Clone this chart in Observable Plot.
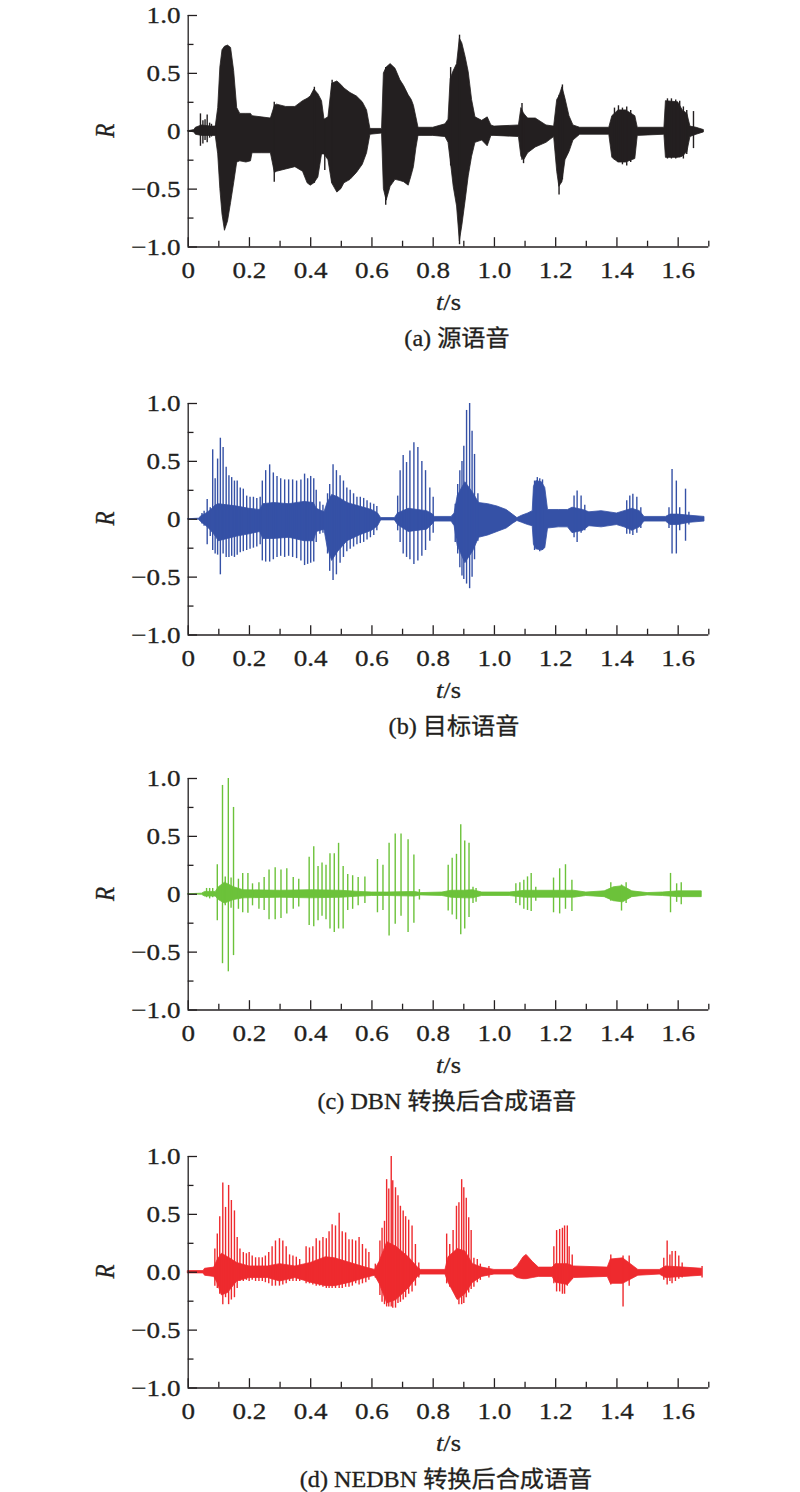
<!DOCTYPE html>
<html>
<head>
<meta charset="utf-8">
<script src="https://cdn.jsdelivr.net/npm/d3@7"></script>
<script src="https://cdn.jsdelivr.net/npm/@observablehq/plot@0.6"></script>
<style>
  body { margin: 0; background: #fff; }
  #root { position: relative; width: 800px; height: 1492px; overflow: hidden; }
  #root > svg { position: absolute; left: 0; }
</style>
</head>
<body>
<div id="root"></div>
<script>
// ---------- tick values ----------
const xMajorTicks = [0, 0.2, 0.4, 0.6, 0.8, 1.0, 1.2, 1.4, 1.6];
const xMinorTicks = [0.1, 0.3, 0.5, 0.7, 0.9, 1.1, 1.3, 1.5, 1.7];
const yMajorTicks = [-1, -0.5, 0, 0.5, 1];
const yMinorTicks = [-0.75, -0.25, 0.25, 0.75];

// ---------- captions ----------
const captions = ["(a) 源语音", "(b) 目标语音", "(c) DBN 转换后合成语音", "(d) NEDBN 转换后合成语音"];
const zeroLabels = ["0", "0", "0", "0.0"];
const seriesColors = ["#231f20", "#3551a6", "#6cc23a", "#ee2a2e"];

// ---------- (a) source speech: envelope [t, upper, lower] ----------
const sourceEnvelope = [
  [0,0,0],[0.02,0.01,-0.01],[0.025,0.03,-0.03],[0.045,0.05,-0.04],[0.075,0.04,-0.04],[0.09,0.04,-0.04],
  [0.098,0.20,-0.20],[0.105,0.55,-0.50],
  [0.112,0.70,-0.72],[0.12,0.73,-0.86],[0.13,0.74,-0.78],[0.14,0.72,-0.62],[0.15,0.52,-0.45],
  [0.16,0.20,-0.27],[0.17,0.15,-0.26],[0.19,0.15,-0.27],[0.205,0.15,-0.26],[0.21,0.13,-0.19],
  [0.24,0.12,-0.19],[0.27,0.11,-0.19],[0.283,0.22,-0.36],[0.29,0.23,-0.35],[0.32,0.21,-0.33],
  [0.35,0.21,-0.31],[0.375,0.26,-0.35],[0.39,0.28,-0.45],[0.40,0.30,-0.47],[0.412,0.36,-0.45],
  [0.425,0.32,-0.40],[0.437,0.26,-0.20],[0.445,0.10,-0.20],[0.458,0.12,-0.25],
  [0.47,0.41,-0.45],[0.487,0.43,-0.53],[0.50,0.40,-0.50],[0.51,0.37,-0.45],[0.53,0.33,-0.42],
  [0.551,0.30,-0.36],[0.57,0.25,-0.29],[0.584,0.18,-0.19],[0.595,0.02,-0.03],
  [0.633,0.02,-0.02],[0.639,0.50,-0.50],[0.648,0.55,-0.60],[0.661,0.58,-0.48],[0.677,0.54,-0.42],
  [0.693,0.44,-0.43],[0.705,0.39,-0.44],[0.72,0.31,-0.47],[0.73,0.27,-0.38],[0.737,0.22,-0.31],
  [0.745,0.12,-0.15],[0.752,0.03,-0.04],[0.765,0.03,-0.04],[0.80,0.03,-0.04],[0.84,0.06,-0.05],
  [0.85,0.10,-0.10],[0.857,0.45,-0.25],[0.867,0.52,-0.48],[0.878,0.58,-0.65],[0.887,0.80,-0.95],
  [0.895,0.76,-0.82],[0.906,0.64,-0.60],[0.916,0.51,-0.39],[0.927,0.27,-0.22],[0.938,0.12,-0.10],
  [0.96,0.09,-0.08],[0.978,0.12,-0.13],[0.99,0.05,-0.04],[1.0,0.04,-0.04],[1.08,0.05,-0.05],
  [1.088,0.20,-0.22],[1.097,0.15,-0.25],[1.11,0.11,-0.19],[1.135,0.11,-0.14],[1.17,0.05,-0.10],
  [1.195,0.04,-0.05],[1.205,0.27,-0.35],[1.212,0.30,-0.48],[1.222,0.38,-0.44],[1.232,0.28,-0.25],
  [1.245,0.13,-0.18],[1.258,0.05,-0.08],[1.28,0.03,-0.03],[1.375,0.03,-0.03],[1.385,0.13,-0.23],
  [1.405,0.18,-0.27],[1.43,0.18,-0.27],[1.46,0.13,-0.24],[1.468,0.03,-0.04],[1.555,0.03,-0.03],
  [1.56,0.26,-0.23],[1.60,0.25,-0.23],[1.615,0.18,-0.22],[1.63,0.15,-0.18],[1.64,0.04,-0.05],
  [1.66,0.03,-0.03],[1.684,0.01,-0.01]
];
const sourceSpikes = [
  [0.040,0.15,-0.13],[0.048,0.09,-0.11],[0.055,0.10,-0.08],[0.062,0.14,-0.10],[0.070,0.07,-0.06],
  [0.076,0.06,-0.05],[0.090,0.05,-0.04],[0.281,0.25,-0.44],[0.412,0.38,-0.45],[0.446,0.10,-0.34],
  [0.470,0.44,-0.45],[0.645,0.55,-0.64],[0.857,0.55,-0.30],[0.886,0.83,-0.98],[1.090,0.24,-0.25],
  [1.095,0.15,-0.28],[1.211,0.31,-0.55],[1.222,0.40,-0.42],[1.392,0.20,-0.25],[1.405,0.22,-0.27],
  [1.418,0.20,-0.29],[1.432,0.21,-0.30],[1.445,0.18,-0.27],[1.565,0.28,-0.24],[1.578,0.28,-0.24],
  [1.592,0.27,-0.24],[1.605,0.26,-0.23],[1.617,0.21,-0.24],[1.628,0.18,-0.20],[1.650,0.17,-0.15]
];

// ---------- (b) target speech ----------
const targetEnvelope = [
  [0,0,0],[0.035,0.005,-0.005],[0.045,0.03,-0.03],[0.06,0.05,-0.06],[0.075,0.08,-0.10],[0.09,0.12,-0.15],
  [0.10,0.13,-0.19],[0.13,0.12,-0.17],[0.16,0.11,-0.15],[0.20,0.09,-0.13],[0.235,0.08,-0.11],
  [0.245,0.13,-0.17],[0.28,0.14,-0.17],[0.33,0.13,-0.16],[0.38,0.15,-0.19],[0.41,0.14,-0.19],
  [0.42,0.09,-0.11],[0.445,0.06,-0.09],[0.455,0.14,-0.24],[0.47,0.21,-0.36],[0.49,0.19,-0.28],
  [0.52,0.14,-0.19],[0.56,0.11,-0.14],[0.60,0.08,-0.10],[0.62,0.05,-0.06],[0.63,0.01,-0.01],
  [0.675,0.01,-0.01],[0.685,0.05,-0.05],[0.72,0.09,-0.11],[0.78,0.07,-0.09],[0.80,0.04,-0.04],
  [0.805,0.02,-0.02],[0.86,0.02,-0.02],[0.87,0.05,-0.06],[0.88,0.20,-0.23],[0.905,0.32,-0.38],
  [0.93,0.23,-0.28],[0.95,0.14,-0.16],[0.98,0.13,-0.14],[1.01,0.11,-0.11],[1.04,0.08,-0.08],
  [1.06,0.04,-0.04],[1.075,0.01,-0.015],[1.09,0.03,-0.03],[1.11,0.05,-0.05],[1.125,0.07,-0.06],
  [1.129,0.28,-0.22],[1.137,0.33,-0.26],[1.155,0.32,-0.27],[1.166,0.27,-0.25],[1.175,0.08,-0.08],
  [1.21,0.08,-0.07],[1.24,0.08,-0.07],[1.255,0.10,-0.12],[1.29,0.08,-0.10],[1.31,0.06,-0.06],
  [1.35,0.07,-0.07],[1.40,0.05,-0.05],[1.425,0.07,-0.07],[1.45,0.09,-0.10],[1.475,0.07,-0.07],
  [1.49,0.02,-0.02],[1.56,0.02,-0.02],[1.575,0.04,-0.05],[1.60,0.04,-0.05],[1.64,0.03,-0.03],
  [1.686,0.02,-0.02]
];
const targetSpikes = [
  [0.045,0.05,-0.04],[0.052,0.07,-0.06],[0.062,0.17,-0.22],[0.072,0.10,-0.15],[0.080,0.60,-0.27],
  [0.088,0.35,-0.30],[0.096,0.52,-0.31],[0.105,0.70,-0.48],[0.114,0.62,-0.30],[0.124,0.45,-0.33],
  [0.133,0.375,-0.33],[0.142,0.36,-0.32],[0.151,0.33,-0.33],[0.160,0.33,-0.31],[0.170,0.27,-0.29],
  [0.180,0.26,-0.28],[0.191,0.20,-0.27],[0.202,0.19,-0.26],[0.213,0.19,-0.25],[0.224,0.18,-0.24],
  [0.235,0.19,-0.22],[0.242,0.33,-0.36],[0.253,0.42,-0.37],[0.266,0.47,-0.37],[0.278,0.40,-0.35],
  [0.290,0.37,-0.33],[0.302,0.35,-0.32],[0.315,0.34,-0.33],[0.328,0.34,-0.32],[0.341,0.34,-0.33],
  [0.354,0.33,-0.34],[0.368,0.34,-0.36],[0.380,0.39,-0.40],[0.390,0.35,-0.39],[0.400,0.37,-0.38],
  [0.410,0.35,-0.37],[0.418,0.25,-0.20],[0.430,0.15,-0.13],[0.440,0.12,-0.12],[0.455,0.22,-0.30],
  [0.462,0.30,-0.45],[0.473,0.47,-0.53],[0.484,0.42,-0.48],[0.496,0.375,-0.38],[0.507,0.33,-0.33],
  [0.518,0.27,-0.28],[0.529,0.25,-0.26],[0.540,0.22,-0.24],[0.551,0.19,-0.22],[0.562,0.19,-0.21],
  [0.573,0.18,-0.20],[0.584,0.16,-0.18],[0.595,0.14,-0.16],[0.606,0.13,-0.14],[0.616,0.11,-0.10],
  [0.684,0.20,-0.10],[0.692,0.42,-0.20],[0.702,0.55,-0.30],[0.713,0.49,-0.33],[0.724,0.59,-0.35],
  [0.737,0.66,-0.39],[0.750,0.62,-0.36],[0.763,0.50,-0.32],[0.775,0.42,-0.27],[0.789,0.27,-0.19],
  [0.800,0.19,-0.12],[0.872,0.13,-0.20],[0.880,0.30,-0.30],[0.887,0.42,-0.42],[0.894,0.50,-0.49],
  [0.900,0.63,-0.52],[0.909,0.94,-0.56],[0.919,1.00,-0.60],[0.927,0.76,-0.50],[0.935,0.56,-0.35],
  [0.946,0.22,-0.19],[1.131,0.33,-0.27],[1.140,0.36,-0.26],[1.148,0.35,-0.28],[1.157,0.34,-0.27],
  [1.260,0.20,-0.16],[1.270,0.245,-0.20],[1.283,0.20,-0.12],[1.295,0.12,-0.10],
  [1.432,0.16,-0.13],[1.442,0.20,-0.13],[1.452,0.215,-0.14],[1.465,0.19,-0.12],[1.478,0.10,-0.08],
  [1.570,0.10,-0.08],[1.580,0.43,-0.30],[1.594,0.33,-0.30],[1.605,0.10,-0.10],[1.624,0.26,-0.19],
  [1.635,0.06,-0.05]
];

// ---------- (c) DBN converted speech ----------
const dbnEnvelope = [
  [0,0,0],[0.045,0.005,-0.005],[0.055,0.02,-0.02],[0.09,0.02,-0.02],[0.10,0.06,-0.05],[0.12,0.10,-0.08],
  [0.15,0.06,-0.05],[0.18,0.035,-0.035],[0.30,0.03,-0.03],[0.40,0.035,-0.035],[0.50,0.03,-0.03],
  [0.56,0.02,-0.02],[0.60,0.015,-0.015],[0.65,0.015,-0.015],[0.74,0.02,-0.02],[0.76,0.01,-0.01],
  [0.83,0.015,-0.015],[0.86,0.03,-0.03],[0.90,0.03,-0.035],[0.93,0.035,-0.035],[0.96,0.015,-0.015],
  [1.05,0.015,-0.015],[1.10,0.03,-0.03],[1.20,0.03,-0.03],[1.26,0.03,-0.03],[1.30,0.015,-0.015],
  [1.36,0.025,-0.025],[1.39,0.06,-0.06],[1.42,0.07,-0.07],[1.45,0.025,-0.025],[1.50,0.01,-0.01],
  [1.55,0.015,-0.015],[1.60,0.025,-0.025],[1.677,0.025,-0.025]
];
const dbnSpikes = [
  [0.060,0.05,-0.03],[0.070,0.05,-0.04],[0.080,0.05,-0.03],[0.095,0.255,-0.23],[0.112,0.94,-0.60],
  [0.121,0.15,-0.10],[0.131,1.00,-0.67],[0.140,0.14,-0.12],[0.148,0.75,-0.53],[0.164,0.13,-0.13],
  [0.178,0.18,-0.16],[0.195,0.18,-0.165],[0.210,0.09,-0.10],[0.231,0.10,-0.13],[0.248,0.145,-0.14],
  [0.264,0.21,-0.22],[0.284,0.23,-0.22],[0.303,0.21,-0.21],[0.322,0.22,-0.17],[0.343,0.145,-0.13],
  [0.361,0.13,-0.11],[0.395,0.32,-0.27],[0.410,0.41,-0.28],[0.424,0.24,-0.23],[0.437,0.27,-0.19],
  [0.450,0.25,-0.22],[0.463,0.35,-0.30],[0.477,0.35,-0.33],[0.491,0.44,-0.30],[0.506,0.24,-0.30],
  [0.521,0.17,-0.14],[0.537,0.16,-0.13],[0.555,0.145,-0.10],[0.577,0.15,-0.08],[0.618,0.30,-0.16],
  [0.636,0.25,-0.14],[0.656,0.44,-0.36],[0.676,0.52,-0.26],[0.695,0.52,-0.19],[0.718,0.47,-0.33],
  [0.737,0.34,-0.25],[0.755,0.04,-0.05],[0.849,0.25,-0.145],[0.862,0.31,-0.18],[0.876,0.345,-0.22],
  [0.890,0.60,-0.35],[0.903,0.46,-0.30],[0.917,0.44,-0.20],[0.930,0.06,-0.08],[0.940,0.05,-0.07],
  [1.070,0.09,-0.08],[1.083,0.10,-0.10],[1.096,0.12,-0.13],[1.108,0.15,-0.14],[1.120,0.18,-0.15],
  [1.135,0.06,-0.06],[1.193,0.14,-0.16],[1.213,0.22,-0.17],[1.232,0.255,-0.13],[1.253,0.12,-0.15],
  [1.380,0.10,-0.06],[1.415,0.08,-0.145],[1.430,0.10,-0.08],[1.575,0.18,-0.16],[1.595,0.09,-0.07],
  [1.610,0.10,-0.09]
];

// ---------- (d) NEDBN converted speech ----------
const nedbnEnvelope = [
  [0,0.01,-0.01],[0.05,0.01,-0.01],[0.055,0.03,-0.03],[0.085,0.04,-0.04],[0.095,0.10,-0.09],
  [0.11,0.16,-0.20],[0.13,0.13,-0.18],[0.16,0.08,-0.08],[0.20,0.05,-0.05],[0.26,0.05,-0.05],
  [0.30,0.07,-0.08],[0.35,0.05,-0.05],[0.40,0.08,-0.09],[0.45,0.13,-0.12],[0.48,0.12,-0.12],
  [0.53,0.08,-0.09],[0.58,0.04,-0.05],[0.61,0.02,-0.03],[0.625,0.09,-0.10],[0.65,0.26,-0.27],
  [0.68,0.22,-0.24],[0.72,0.13,-0.14],[0.75,0.04,-0.04],[0.76,0.02,-0.02],[0.84,0.02,-0.02],
  [0.85,0.13,-0.09],[0.88,0.20,-0.24],[0.905,0.18,-0.19],[0.93,0.07,-0.09],[0.96,0.04,-0.04],
  [1.00,0.02,-0.02],[1.06,0.02,-0.02],[1.075,0.05,-0.05],[1.095,0.13,-0.06],[1.105,0.15,-0.06],
  [1.125,0.09,-0.05],[1.145,0.04,-0.04],[1.19,0.04,-0.04],[1.20,0.07,-0.09],[1.24,0.07,-0.11],
  [1.26,0.05,-0.05],[1.37,0.04,-0.04],[1.38,0.11,-0.10],[1.42,0.12,-0.10],[1.47,0.02,-0.03],
  [1.54,0.02,-0.02],[1.56,0.05,-0.05],[1.62,0.04,-0.04],[1.678,0.03,-0.03]
];
const nedbnSpikes = [
  [0.087,0.20,-0.12],[0.095,0.33,-0.14],[0.103,0.48,-0.19],[0.113,0.77,-0.28],[0.122,0.56,-0.22],
  [0.132,0.75,-0.28],[0.141,0.62,-0.24],[0.151,0.53,-0.22],[0.160,0.30,-0.14],[0.169,0.20,-0.08],
  [0.180,0.17,-0.08],[0.190,0.16,-0.07],[0.199,0.17,-0.08],[0.209,0.14,-0.07],[0.220,0.125,-0.08],
  [0.231,0.125,-0.08],[0.242,0.125,-0.08],[0.252,0.14,-0.09],[0.263,0.17,-0.10],[0.274,0.22,-0.12],
  [0.285,0.27,-0.12],[0.298,0.29,-0.12],[0.309,0.27,-0.11],[0.320,0.22,-0.10],[0.331,0.15,-0.08],
  [0.342,0.14,-0.08],[0.353,0.13,-0.08],[0.364,0.11,-0.08],[0.385,0.22,-0.10],[0.396,0.21,-0.10],
  [0.407,0.22,-0.11],[0.418,0.29,-0.12],[0.429,0.27,-0.12],[0.440,0.30,-0.13],[0.451,0.29,-0.14],
  [0.460,0.35,-0.14],[0.470,0.41,-0.14],[0.481,0.40,-0.14],[0.493,0.51,-0.14],[0.503,0.35,-0.14],
  [0.514,0.34,-0.13],[0.525,0.28,-0.13],[0.536,0.28,-0.12],[0.547,0.27,-0.10],[0.558,0.30,-0.11],
  [0.569,0.24,-0.10],[0.580,0.20,-0.09],[0.590,0.17,-0.07],[0.611,0.07,-0.05],[0.626,0.27,-0.20],
  [0.633,0.38,-0.26],[0.641,0.44,-0.28],[0.648,0.80,-0.30],[0.655,0.72,-0.30],[0.663,1.00,-0.30],
  [0.668,0.79,-0.31],[0.677,0.73,-0.31],[0.685,0.66,-0.27],[0.693,0.57,-0.26],[0.702,0.53,-0.24],
  [0.710,0.48,-0.22],[0.720,0.45,-0.19],[0.731,0.40,-0.17],[0.742,0.24,-0.12],[0.753,0.08,-0.05],
  [0.844,0.33,-0.10],[0.854,0.24,-0.13],[0.865,0.36,-0.16],[0.876,0.57,-0.22],[0.884,0.60,-0.28],
  [0.893,0.80,-0.28],[0.900,0.73,-0.27],[0.908,0.64,-0.22],[0.916,0.47,-0.18],[0.924,0.36,-0.15],
  [0.933,0.12,-0.13],[0.944,0.11,-0.09],[0.954,0.07,-0.07],[0.982,0.05,-0.05],[1.194,0.22,-0.10],
  [1.203,0.36,-0.17],[1.213,0.37,-0.17],[1.222,0.38,-0.19],[1.229,0.40,-0.19],[1.238,0.40,-0.12],
  [1.244,0.22,-0.08],[1.254,0.15,-0.06],[1.380,0.15,-0.11],[1.420,0.14,-0.30],[1.440,0.14,-0.12],
  [1.553,0.12,-0.07],[1.564,0.27,-0.11],[1.573,0.15,-0.08],[1.580,0.18,-0.10],[1.591,0.18,-0.08],
  [1.602,0.14,-0.06],[1.613,0.08,-0.05],[1.678,0.05,-0.05]
];

// ---------- layout ----------
const panelTops = [15, 402.7, 778.3, 1155.7];   // pixel position of R = 1.0
const innerH = 231.5;
const mTop = 15, mBottom = 50, mLeft = 187.7, mRight = 91.7;
const ink = "#231f20";
const serif = "'Liberation Serif','Times New Roman',serif";

const envelopes = [sourceEnvelope, targetEnvelope, dbnEnvelope, nedbnEnvelope];
const spikes = [sourceSpikes, targetSpikes, dbnSpikes, nedbnSpikes];

const root = document.getElementById("root");
const fmtX = d => d === 0 ? "0" : d.toFixed(1);

envelopes.forEach((env, i) => {
  const color = seriesColors[i];
  const fmtY = d => d === 0 ? zeroLabels[i] : (d < 0 ? "\u2212" : "") + Math.abs(d).toFixed(1);
  const svg = Plot.plot({
    width: 800,
    height: mTop + innerH + mBottom,
    marginTop: mTop, marginBottom: mBottom, marginLeft: mLeft, marginRight: mRight,
    x: {domain: [0, 1.7]},
    y: {domain: [-1, 1]},
    style: {fontFamily: serif, fontSize: "24px", color: ink, background: "transparent", overflow: "visible"},
    marks: [
      Plot.areaY(env, {x: d => d[0], y1: d => d[2], y2: d => d[1], fill: color, stroke: color, strokeWidth: 0.8}),
      Plot.ruleX(spikes[i], {x: d => d[0], y1: d => d[2], y2: d => d[1], stroke: color, strokeWidth: 1.4}),
      Plot.ruleX([0], {stroke: ink, strokeWidth: 1.3}),
      Plot.ruleY([-1], {stroke: ink, strokeWidth: 1.3}),
      Plot.axisX(xMajorTicks, {tickSize: -9.3, tickPadding: 23, tickFormat: fmtX, fontSize: 24, stroke: ink, strokeWidth: 1.3, label: null}),
      Plot.axisX(xMinorTicks, {tickSize: -5.8, tickFormat: () => "", stroke: ink, strokeWidth: 1.3, label: null}),
      Plot.axisY(yMajorTicks, {tickSize: -9.3, tickPadding: 17, tickFormat: fmtY, fontSize: 24, stroke: ink, strokeWidth: 1.3, label: null}),
      Plot.axisY(yMinorTicks, {tickSize: -5.8, tickFormat: () => "", stroke: ink, strokeWidth: 1.3, label: null})
    ]
  });
  svg.style.top = (panelTops[i] - mTop) + "px";
  // the reference type is horizontally wide: stretch tick labels about their anchor
  svg.querySelectorAll('g[aria-label$="tick label"] text').forEach(t => {
    const tr = t.getAttribute("transform") || "";
    t.setAttribute("transform", tr + " scale(1.13,1)");
    t.style.stroke = ink;
    t.style.strokeWidth = "0.3px";
  });
  root.appendChild(svg);
});

// ---------- overlay text: axis titles and captions ----------
const ov = d3.select(root).append("svg")
  .attr("width", 800).attr("height", 1492)
  .style("top", "0px").style("pointer-events", "none")
  .style("font-family", serif).style("fill", ink)
  .style("stroke", ink).style("stroke-width", "0.3px");

const captionX = [457, 454, 447, 446];
panelTops.forEach((top, i) => {
  const axisY = top + innerH;
  const zeroY = top + innerH / 2;
  ov.append("text")
    .attr("transform", `translate(113.5,${zeroY}) rotate(-90) scale(1,1.15)`)
    .attr("text-anchor", "middle")
    .style("font-size", "23px").style("font-style", "italic")
    .text("R");
  const ts = ov.append("text")
    .attr("transform", `translate(448.5,${axisY + 63.5}) scale(1.15,1)`)
    .attr("text-anchor", "middle")
    .style("font-size", "23px");
  ts.append("tspan").style("font-style", "italic").text("t");
  ts.append("tspan").text("/s");
  ov.append("text")
    .attr("transform", `translate(${captionX[i]},${axisY + 99.5}) scale(1.05,1)`)
    .attr("text-anchor", "middle")
    .style("font-size", "23px")
    .style("font-family", "'Liberation Serif','Noto Sans CJK SC',serif")
    .text(captions[i]);
});
</script>
</body>
</html>
